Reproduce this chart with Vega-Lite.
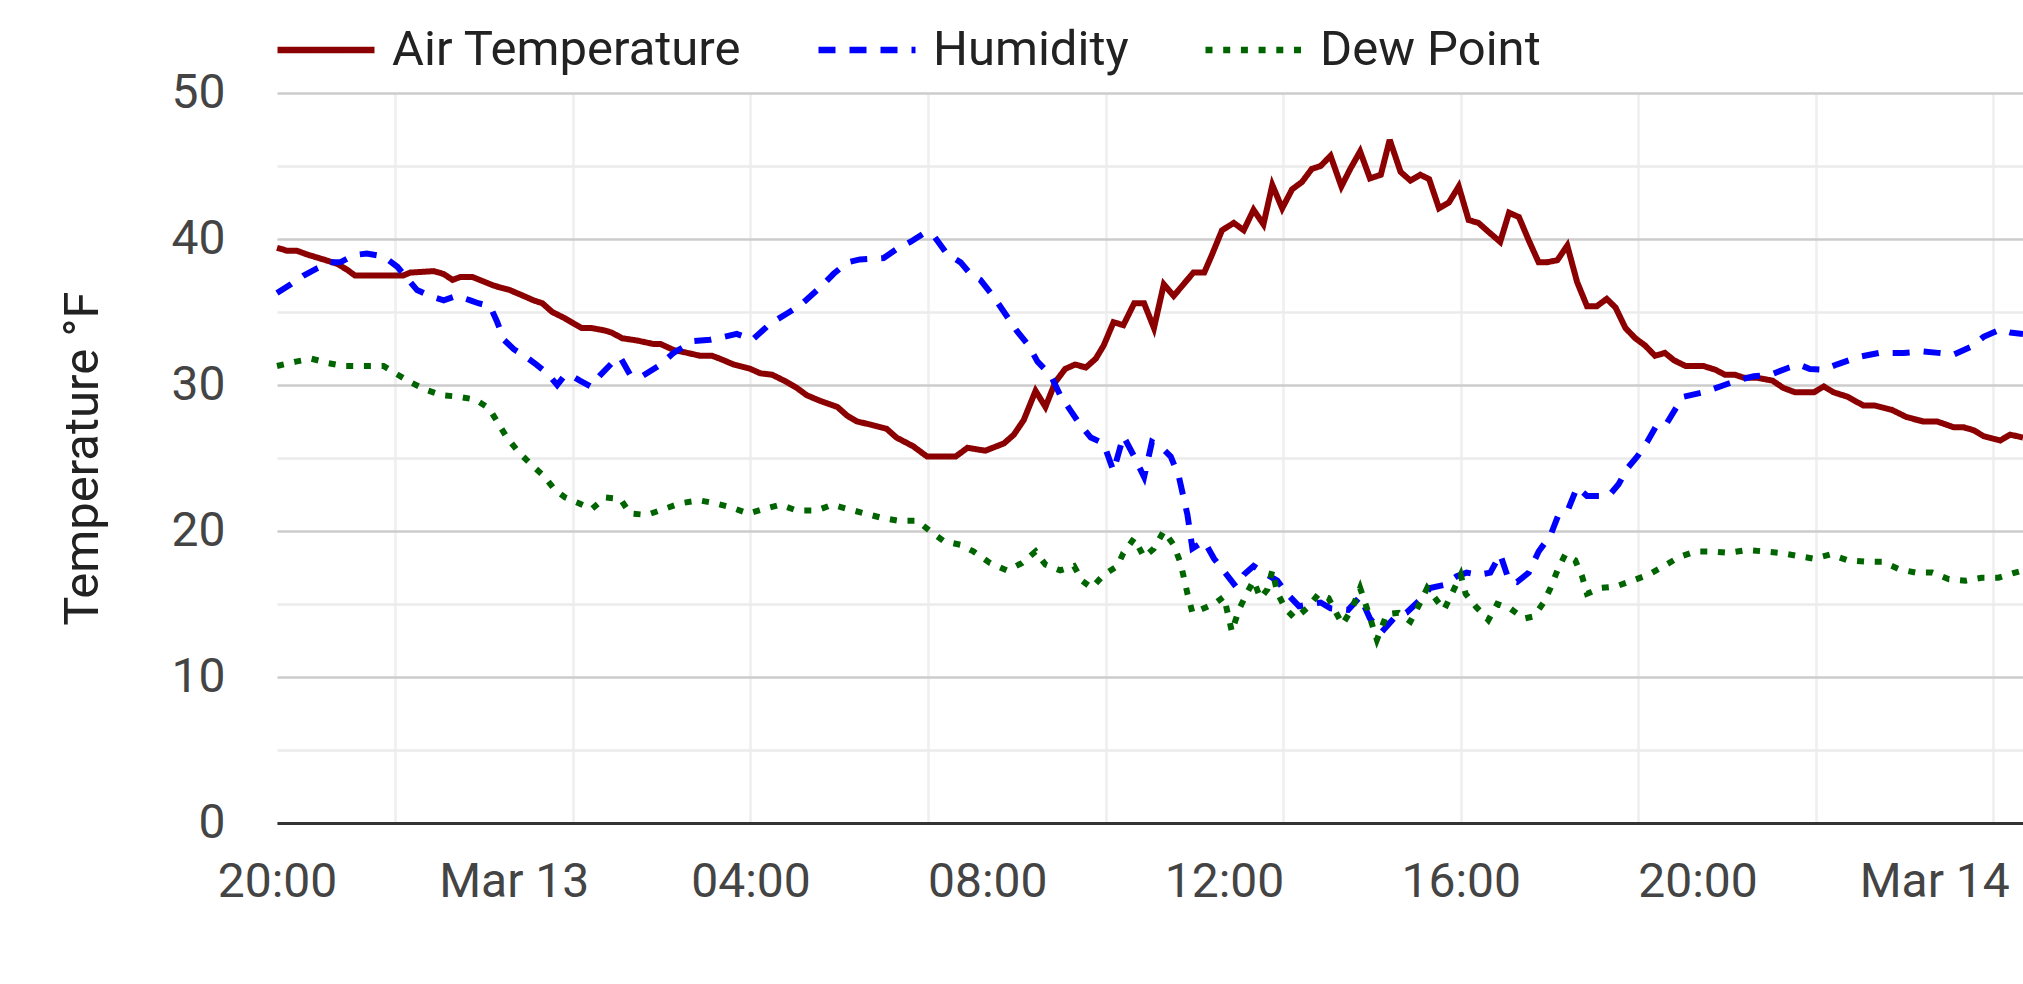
{
  "$schema": "https://vega.github.io/schema/vega-lite/v6.json",
  "autosize": {"type": "none"},
  "padding": {"left": 277, "top": 93, "right": 0, "bottom": 161},
  "width": 1746,
  "height": 730,
  "background": "white",
  "config": {
    "font": "Roboto",
    "view": {"stroke": null}
  },
  "data": {
    "values": [
      {"t": "2024-03-12T20:00", "s": "Air Temperature", "v": 39.4},
      {"t": "2024-03-12T20:10", "s": "Air Temperature", "v": 39.2},
      {"t": "2024-03-12T20:20", "s": "Air Temperature", "v": 39.2},
      {"t": "2024-03-12T20:30", "s": "Air Temperature", "v": 38.95},
      {"t": "2024-03-12T20:47", "s": "Air Temperature", "v": 38.6},
      {"t": "2024-03-12T21:01", "s": "Air Temperature", "v": 38.3},
      {"t": "2024-03-12T21:11", "s": "Air Temperature", "v": 37.9},
      {"t": "2024-03-12T21:19", "s": "Air Temperature", "v": 37.5},
      {"t": "2024-03-12T21:35", "s": "Air Temperature", "v": 37.5},
      {"t": "2024-03-12T22:08", "s": "Air Temperature", "v": 37.5},
      {"t": "2024-03-12T22:15", "s": "Air Temperature", "v": 37.7},
      {"t": "2024-03-12T22:39", "s": "Air Temperature", "v": 37.8},
      {"t": "2024-03-12T22:49", "s": "Air Temperature", "v": 37.6},
      {"t": "2024-03-12T22:58", "s": "Air Temperature", "v": 37.2},
      {"t": "2024-03-12T23:06", "s": "Air Temperature", "v": 37.4},
      {"t": "2024-03-12T23:18", "s": "Air Temperature", "v": 37.4},
      {"t": "2024-03-12T23:29", "s": "Air Temperature", "v": 37.1},
      {"t": "2024-03-12T23:40", "s": "Air Temperature", "v": 36.8},
      {"t": "2024-03-12T23:56", "s": "Air Temperature", "v": 36.5},
      {"t": "2024-03-13T00:10", "s": "Air Temperature", "v": 36.1},
      {"t": "2024-03-13T00:20", "s": "Air Temperature", "v": 35.8},
      {"t": "2024-03-13T00:29", "s": "Air Temperature", "v": 35.6},
      {"t": "2024-03-13T00:39", "s": "Air Temperature", "v": 35.0},
      {"t": "2024-03-13T00:51", "s": "Air Temperature", "v": 34.6},
      {"t": "2024-03-13T01:01", "s": "Air Temperature", "v": 34.2},
      {"t": "2024-03-13T01:09", "s": "Air Temperature", "v": 33.9},
      {"t": "2024-03-13T01:19", "s": "Air Temperature", "v": 33.9},
      {"t": "2024-03-13T01:31", "s": "Air Temperature", "v": 33.75},
      {"t": "2024-03-13T01:39", "s": "Air Temperature", "v": 33.6},
      {"t": "2024-03-13T01:50", "s": "Air Temperature", "v": 33.2},
      {"t": "2024-03-13T02:05", "s": "Air Temperature", "v": 33.05},
      {"t": "2024-03-13T02:22", "s": "Air Temperature", "v": 32.8},
      {"t": "2024-03-13T02:29", "s": "Air Temperature", "v": 32.8},
      {"t": "2024-03-13T02:42", "s": "Air Temperature", "v": 32.4},
      {"t": "2024-03-13T02:56", "s": "Air Temperature", "v": 32.2},
      {"t": "2024-03-13T03:09", "s": "Air Temperature", "v": 32.0},
      {"t": "2024-03-13T03:21", "s": "Air Temperature", "v": 32.0},
      {"t": "2024-03-13T03:29", "s": "Air Temperature", "v": 31.8},
      {"t": "2024-03-13T03:43", "s": "Air Temperature", "v": 31.4},
      {"t": "2024-03-13T04:00", "s": "Air Temperature", "v": 31.1},
      {"t": "2024-03-13T04:10", "s": "Air Temperature", "v": 30.8},
      {"t": "2024-03-13T04:22", "s": "Air Temperature", "v": 30.7},
      {"t": "2024-03-13T04:34", "s": "Air Temperature", "v": 30.3},
      {"t": "2024-03-13T04:47", "s": "Air Temperature", "v": 29.8},
      {"t": "2024-03-13T04:57", "s": "Air Temperature", "v": 29.3},
      {"t": "2024-03-13T05:11", "s": "Air Temperature", "v": 28.9},
      {"t": "2024-03-13T05:28", "s": "Air Temperature", "v": 28.5},
      {"t": "2024-03-13T05:38", "s": "Air Temperature", "v": 27.9},
      {"t": "2024-03-13T05:48", "s": "Air Temperature", "v": 27.5},
      {"t": "2024-03-13T06:01", "s": "Air Temperature", "v": 27.3},
      {"t": "2024-03-13T06:18", "s": "Air Temperature", "v": 27.0},
      {"t": "2024-03-13T06:28", "s": "Air Temperature", "v": 26.4},
      {"t": "2024-03-13T06:45", "s": "Air Temperature", "v": 25.8},
      {"t": "2024-03-13T06:59", "s": "Air Temperature", "v": 25.1},
      {"t": "2024-03-13T07:12", "s": "Air Temperature", "v": 25.1},
      {"t": "2024-03-13T07:28", "s": "Air Temperature", "v": 25.1},
      {"t": "2024-03-13T07:40", "s": "Air Temperature", "v": 25.7},
      {"t": "2024-03-13T07:58", "s": "Air Temperature", "v": 25.5},
      {"t": "2024-03-13T08:17", "s": "Air Temperature", "v": 26.0},
      {"t": "2024-03-13T08:27", "s": "Air Temperature", "v": 26.6},
      {"t": "2024-03-13T08:37", "s": "Air Temperature", "v": 27.6},
      {"t": "2024-03-13T08:49", "s": "Air Temperature", "v": 29.6},
      {"t": "2024-03-13T08:59", "s": "Air Temperature", "v": 28.5},
      {"t": "2024-03-13T09:09", "s": "Air Temperature", "v": 30.2},
      {"t": "2024-03-13T09:19", "s": "Air Temperature", "v": 31.1},
      {"t": "2024-03-13T09:29", "s": "Air Temperature", "v": 31.4},
      {"t": "2024-03-13T09:40", "s": "Air Temperature", "v": 31.2},
      {"t": "2024-03-13T09:50", "s": "Air Temperature", "v": 31.8},
      {"t": "2024-03-13T09:58", "s": "Air Temperature", "v": 32.7},
      {"t": "2024-03-13T10:08", "s": "Air Temperature", "v": 34.3},
      {"t": "2024-03-13T10:18", "s": "Air Temperature", "v": 34.1},
      {"t": "2024-03-13T10:29", "s": "Air Temperature", "v": 35.6},
      {"t": "2024-03-13T10:39", "s": "Air Temperature", "v": 35.6},
      {"t": "2024-03-13T10:49", "s": "Air Temperature", "v": 33.9},
      {"t": "2024-03-13T10:59", "s": "Air Temperature", "v": 36.9},
      {"t": "2024-03-13T11:09", "s": "Air Temperature", "v": 36.1},
      {"t": "2024-03-13T11:19", "s": "Air Temperature", "v": 36.9},
      {"t": "2024-03-13T11:29", "s": "Air Temperature", "v": 37.7},
      {"t": "2024-03-13T11:40", "s": "Air Temperature", "v": 37.7},
      {"t": "2024-03-13T11:48", "s": "Air Temperature", "v": 38.95},
      {"t": "2024-03-13T11:58", "s": "Air Temperature", "v": 40.6},
      {"t": "2024-03-13T12:10", "s": "Air Temperature", "v": 41.1},
      {"t": "2024-03-13T12:20", "s": "Air Temperature", "v": 40.6},
      {"t": "2024-03-13T12:30", "s": "Air Temperature", "v": 42.0},
      {"t": "2024-03-13T12:40", "s": "Air Temperature", "v": 41.0},
      {"t": "2024-03-13T12:49", "s": "Air Temperature", "v": 43.7},
      {"t": "2024-03-13T12:59", "s": "Air Temperature", "v": 42.1},
      {"t": "2024-03-13T13:09", "s": "Air Temperature", "v": 43.4},
      {"t": "2024-03-13T13:19", "s": "Air Temperature", "v": 43.9},
      {"t": "2024-03-13T13:29", "s": "Air Temperature", "v": 44.8},
      {"t": "2024-03-13T13:38", "s": "Air Temperature", "v": 45.0},
      {"t": "2024-03-13T13:48", "s": "Air Temperature", "v": 45.7},
      {"t": "2024-03-13T13:59", "s": "Air Temperature", "v": 43.6},
      {"t": "2024-03-13T14:08", "s": "Air Temperature", "v": 44.8},
      {"t": "2024-03-13T14:18", "s": "Air Temperature", "v": 46.0},
      {"t": "2024-03-13T14:28", "s": "Air Temperature", "v": 44.15},
      {"t": "2024-03-13T14:39", "s": "Air Temperature", "v": 44.4},
      {"t": "2024-03-13T14:48", "s": "Air Temperature", "v": 46.8},
      {"t": "2024-03-13T14:59", "s": "Air Temperature", "v": 44.6},
      {"t": "2024-03-13T15:09", "s": "Air Temperature", "v": 44.0},
      {"t": "2024-03-13T15:19", "s": "Air Temperature", "v": 44.4},
      {"t": "2024-03-13T15:28", "s": "Air Temperature", "v": 44.1},
      {"t": "2024-03-13T15:38", "s": "Air Temperature", "v": 42.1},
      {"t": "2024-03-13T15:48", "s": "Air Temperature", "v": 42.5},
      {"t": "2024-03-13T15:58", "s": "Air Temperature", "v": 43.6},
      {"t": "2024-03-13T16:08", "s": "Air Temperature", "v": 41.3},
      {"t": "2024-03-13T16:18", "s": "Air Temperature", "v": 41.1},
      {"t": "2024-03-13T16:28", "s": "Air Temperature", "v": 40.5},
      {"t": "2024-03-13T16:40", "s": "Air Temperature", "v": 39.8},
      {"t": "2024-03-13T16:49", "s": "Air Temperature", "v": 41.8},
      {"t": "2024-03-13T16:59", "s": "Air Temperature", "v": 41.5},
      {"t": "2024-03-13T17:09", "s": "Air Temperature", "v": 39.9},
      {"t": "2024-03-13T17:19", "s": "Air Temperature", "v": 38.4},
      {"t": "2024-03-13T17:27", "s": "Air Temperature", "v": 38.4},
      {"t": "2024-03-13T17:38", "s": "Air Temperature", "v": 38.55},
      {"t": "2024-03-13T17:48", "s": "Air Temperature", "v": 39.55},
      {"t": "2024-03-13T17:58", "s": "Air Temperature", "v": 37.05},
      {"t": "2024-03-13T18:08", "s": "Air Temperature", "v": 35.4},
      {"t": "2024-03-13T18:18", "s": "Air Temperature", "v": 35.4},
      {"t": "2024-03-13T18:28", "s": "Air Temperature", "v": 35.9},
      {"t": "2024-03-13T18:37", "s": "Air Temperature", "v": 35.3},
      {"t": "2024-03-13T18:47", "s": "Air Temperature", "v": 33.9},
      {"t": "2024-03-13T18:57", "s": "Air Temperature", "v": 33.2},
      {"t": "2024-03-13T19:07", "s": "Air Temperature", "v": 32.7},
      {"t": "2024-03-13T19:17", "s": "Air Temperature", "v": 32.0},
      {"t": "2024-03-13T19:27", "s": "Air Temperature", "v": 32.2},
      {"t": "2024-03-13T19:36", "s": "Air Temperature", "v": 31.7},
      {"t": "2024-03-13T19:48", "s": "Air Temperature", "v": 31.3},
      {"t": "2024-03-13T20:06", "s": "Air Temperature", "v": 31.3},
      {"t": "2024-03-13T20:18", "s": "Air Temperature", "v": 31.05},
      {"t": "2024-03-13T20:28", "s": "Air Temperature", "v": 30.7},
      {"t": "2024-03-13T20:38", "s": "Air Temperature", "v": 30.7},
      {"t": "2024-03-13T20:47", "s": "Air Temperature", "v": 30.5},
      {"t": "2024-03-13T21:00", "s": "Air Temperature", "v": 30.5},
      {"t": "2024-03-13T21:16", "s": "Air Temperature", "v": 30.3},
      {"t": "2024-03-13T21:27", "s": "Air Temperature", "v": 29.8},
      {"t": "2024-03-13T21:39", "s": "Air Temperature", "v": 29.5},
      {"t": "2024-03-13T21:58", "s": "Air Temperature", "v": 29.5},
      {"t": "2024-03-13T22:08", "s": "Air Temperature", "v": 29.9},
      {"t": "2024-03-13T22:18", "s": "Air Temperature", "v": 29.5},
      {"t": "2024-03-13T22:32", "s": "Air Temperature", "v": 29.2},
      {"t": "2024-03-13T22:48", "s": "Air Temperature", "v": 28.6},
      {"t": "2024-03-13T22:59", "s": "Air Temperature", "v": 28.6},
      {"t": "2024-03-13T23:17", "s": "Air Temperature", "v": 28.3},
      {"t": "2024-03-13T23:32", "s": "Air Temperature", "v": 27.8},
      {"t": "2024-03-13T23:49", "s": "Air Temperature", "v": 27.5},
      {"t": "2024-03-14T00:03", "s": "Air Temperature", "v": 27.5},
      {"t": "2024-03-14T00:20", "s": "Air Temperature", "v": 27.1},
      {"t": "2024-03-14T00:30", "s": "Air Temperature", "v": 27.1},
      {"t": "2024-03-14T00:40", "s": "Air Temperature", "v": 26.9},
      {"t": "2024-03-14T00:50", "s": "Air Temperature", "v": 26.5},
      {"t": "2024-03-14T01:07", "s": "Air Temperature", "v": 26.2},
      {"t": "2024-03-14T01:17", "s": "Air Temperature", "v": 26.6},
      {"t": "2024-03-14T01:30", "s": "Air Temperature", "v": 26.4},

      {"t": "2024-03-12T20:00", "s": "Humidity", "v": 36.3},
      {"t": "2024-03-12T20:14", "s": "Humidity", "v": 36.9},
      {"t": "2024-03-12T20:27", "s": "Humidity", "v": 37.5},
      {"t": "2024-03-12T20:41", "s": "Humidity", "v": 38.0},
      {"t": "2024-03-12T20:54", "s": "Humidity", "v": 38.4},
      {"t": "2024-03-12T21:04", "s": "Humidity", "v": 38.4},
      {"t": "2024-03-12T21:18", "s": "Humidity", "v": 38.9},
      {"t": "2024-03-12T21:31", "s": "Humidity", "v": 39.0},
      {"t": "2024-03-12T21:48", "s": "Humidity", "v": 38.8},
      {"t": "2024-03-12T22:02", "s": "Humidity", "v": 38.1},
      {"t": "2024-03-12T22:12", "s": "Humidity", "v": 37.3},
      {"t": "2024-03-12T22:22", "s": "Humidity", "v": 36.5},
      {"t": "2024-03-12T22:35", "s": "Humidity", "v": 36.1},
      {"t": "2024-03-12T22:49", "s": "Humidity", "v": 35.8},
      {"t": "2024-03-12T23:02", "s": "Humidity", "v": 36.1},
      {"t": "2024-03-12T23:16", "s": "Humidity", "v": 35.8},
      {"t": "2024-03-12T23:24", "s": "Humidity", "v": 35.6},
      {"t": "2024-03-12T23:36", "s": "Humidity", "v": 35.4},
      {"t": "2024-03-12T23:43", "s": "Humidity", "v": 34.35},
      {"t": "2024-03-12T23:50", "s": "Humidity", "v": 33.1},
      {"t": "2024-03-13T00:00", "s": "Humidity", "v": 32.45},
      {"t": "2024-03-13T00:13", "s": "Humidity", "v": 31.9},
      {"t": "2024-03-13T00:23", "s": "Humidity", "v": 31.4},
      {"t": "2024-03-13T00:34", "s": "Humidity", "v": 30.8},
      {"t": "2024-03-13T00:44", "s": "Humidity", "v": 30.0},
      {"t": "2024-03-13T00:51", "s": "Humidity", "v": 30.6},
      {"t": "2024-03-13T00:57", "s": "Humidity", "v": 30.7},
      {"t": "2024-03-13T01:07", "s": "Humidity", "v": 30.3},
      {"t": "2024-03-13T01:18", "s": "Humidity", "v": 29.9},
      {"t": "2024-03-13T01:28", "s": "Humidity", "v": 30.7},
      {"t": "2024-03-13T01:41", "s": "Humidity", "v": 31.6},
      {"t": "2024-03-13T01:48", "s": "Humidity", "v": 31.9},
      {"t": "2024-03-13T01:58", "s": "Humidity", "v": 30.7},
      {"t": "2024-03-13T02:10", "s": "Humidity", "v": 30.6},
      {"t": "2024-03-13T02:29", "s": "Humidity", "v": 31.4},
      {"t": "2024-03-13T02:42", "s": "Humidity", "v": 32.2},
      {"t": "2024-03-13T03:02", "s": "Humidity", "v": 33.0},
      {"t": "2024-03-13T03:19", "s": "Humidity", "v": 33.1},
      {"t": "2024-03-13T03:33", "s": "Humidity", "v": 33.3},
      {"t": "2024-03-13T03:46", "s": "Humidity", "v": 33.5},
      {"t": "2024-03-13T04:02", "s": "Humidity", "v": 33.1},
      {"t": "2024-03-13T04:20", "s": "Humidity", "v": 34.2},
      {"t": "2024-03-13T04:37", "s": "Humidity", "v": 34.9},
      {"t": "2024-03-13T04:51", "s": "Humidity", "v": 35.5},
      {"t": "2024-03-13T05:11", "s": "Humidity", "v": 36.7},
      {"t": "2024-03-13T05:24", "s": "Humidity", "v": 37.6},
      {"t": "2024-03-13T05:38", "s": "Humidity", "v": 38.4},
      {"t": "2024-03-13T05:51", "s": "Humidity", "v": 38.6},
      {"t": "2024-03-13T06:15", "s": "Humidity", "v": 38.7},
      {"t": "2024-03-13T06:28", "s": "Humidity", "v": 39.3},
      {"t": "2024-03-13T06:42", "s": "Humidity", "v": 39.8},
      {"t": "2024-03-13T06:56", "s": "Humidity", "v": 40.4},
      {"t": "2024-03-13T07:06", "s": "Humidity", "v": 40.2},
      {"t": "2024-03-13T07:19", "s": "Humidity", "v": 39.0},
      {"t": "2024-03-13T07:33", "s": "Humidity", "v": 38.4},
      {"t": "2024-03-13T07:43", "s": "Humidity", "v": 37.6},
      {"t": "2024-03-13T07:53", "s": "Humidity", "v": 37.2},
      {"t": "2024-03-13T08:07", "s": "Humidity", "v": 36.0},
      {"t": "2024-03-13T08:17", "s": "Humidity", "v": 35.0},
      {"t": "2024-03-13T08:30", "s": "Humidity", "v": 33.7},
      {"t": "2024-03-13T08:42", "s": "Humidity", "v": 32.7},
      {"t": "2024-03-13T08:51", "s": "Humidity", "v": 31.6},
      {"t": "2024-03-13T09:04", "s": "Humidity", "v": 30.7},
      {"t": "2024-03-13T09:14", "s": "Humidity", "v": 29.3},
      {"t": "2024-03-13T09:24", "s": "Humidity", "v": 28.3},
      {"t": "2024-03-13T09:34", "s": "Humidity", "v": 27.3},
      {"t": "2024-03-13T09:45", "s": "Humidity", "v": 26.4},
      {"t": "2024-03-13T09:58", "s": "Humidity", "v": 26.0},
      {"t": "2024-03-13T10:08", "s": "Humidity", "v": 24.1},
      {"t": "2024-03-13T10:18", "s": "Humidity", "v": 26.5},
      {"t": "2024-03-13T10:29", "s": "Humidity", "v": 25.1},
      {"t": "2024-03-13T10:39", "s": "Humidity", "v": 23.7},
      {"t": "2024-03-13T10:47", "s": "Humidity", "v": 26.1},
      {"t": "2024-03-13T10:57", "s": "Humidity", "v": 25.7},
      {"t": "2024-03-13T11:06", "s": "Humidity", "v": 25.1},
      {"t": "2024-03-13T11:14", "s": "Humidity", "v": 23.8},
      {"t": "2024-03-13T11:23", "s": "Humidity", "v": 21.1},
      {"t": "2024-03-13T11:28", "s": "Humidity", "v": 18.8},
      {"t": "2024-03-13T11:40", "s": "Humidity", "v": 19.3},
      {"t": "2024-03-13T11:50", "s": "Humidity", "v": 18.1},
      {"t": "2024-03-13T12:01", "s": "Humidity", "v": 17.15},
      {"t": "2024-03-13T12:12", "s": "Humidity", "v": 16.2},
      {"t": "2024-03-13T12:20", "s": "Humidity", "v": 17.0},
      {"t": "2024-03-13T12:30", "s": "Humidity", "v": 17.6},
      {"t": "2024-03-13T12:40", "s": "Humidity", "v": 17.15},
      {"t": "2024-03-13T12:54", "s": "Humidity", "v": 16.6},
      {"t": "2024-03-13T13:04", "s": "Humidity", "v": 15.7},
      {"t": "2024-03-13T13:16", "s": "Humidity", "v": 14.85},
      {"t": "2024-03-13T13:28", "s": "Humidity", "v": 15.0},
      {"t": "2024-03-13T13:38", "s": "Humidity", "v": 15.1},
      {"t": "2024-03-13T13:48", "s": "Humidity", "v": 14.7},
      {"t": "2024-03-13T14:06", "s": "Humidity", "v": 14.6},
      {"t": "2024-03-13T14:18", "s": "Humidity", "v": 15.5},
      {"t": "2024-03-13T14:28", "s": "Humidity", "v": 14.0},
      {"t": "2024-03-13T14:40", "s": "Humidity", "v": 13.1},
      {"t": "2024-03-13T14:52", "s": "Humidity", "v": 14.0},
      {"t": "2024-03-13T15:05", "s": "Humidity", "v": 14.4},
      {"t": "2024-03-13T15:19", "s": "Humidity", "v": 15.3},
      {"t": "2024-03-13T15:29", "s": "Humidity", "v": 16.1},
      {"t": "2024-03-13T15:43", "s": "Humidity", "v": 16.3},
      {"t": "2024-03-13T15:56", "s": "Humidity", "v": 16.9},
      {"t": "2024-03-13T16:06", "s": "Humidity", "v": 17.15},
      {"t": "2024-03-13T16:18", "s": "Humidity", "v": 17.0},
      {"t": "2024-03-13T16:30", "s": "Humidity", "v": 17.15},
      {"t": "2024-03-13T16:40", "s": "Humidity", "v": 18.4},
      {"t": "2024-03-13T16:49", "s": "Humidity", "v": 16.6},
      {"t": "2024-03-13T16:57", "s": "Humidity", "v": 16.5},
      {"t": "2024-03-13T17:09", "s": "Humidity", "v": 17.15},
      {"t": "2024-03-13T17:19", "s": "Humidity", "v": 18.6},
      {"t": "2024-03-13T17:31", "s": "Humidity", "v": 19.7},
      {"t": "2024-03-13T17:39", "s": "Humidity", "v": 21.1},
      {"t": "2024-03-13T17:49", "s": "Humidity", "v": 21.5},
      {"t": "2024-03-13T17:58", "s": "Humidity", "v": 23.0},
      {"t": "2024-03-13T18:08", "s": "Humidity", "v": 22.4},
      {"t": "2024-03-13T18:20", "s": "Humidity", "v": 22.4},
      {"t": "2024-03-13T18:30", "s": "Humidity", "v": 22.4},
      {"t": "2024-03-13T18:40", "s": "Humidity", "v": 23.2},
      {"t": "2024-03-13T18:49", "s": "Humidity", "v": 24.3},
      {"t": "2024-03-13T18:59", "s": "Humidity", "v": 25.1},
      {"t": "2024-03-13T19:09", "s": "Humidity", "v": 26.1},
      {"t": "2024-03-13T19:19", "s": "Humidity", "v": 27.3},
      {"t": "2024-03-13T19:29", "s": "Humidity", "v": 27.4},
      {"t": "2024-03-13T19:38", "s": "Humidity", "v": 28.4},
      {"t": "2024-03-13T19:46", "s": "Humidity", "v": 29.2},
      {"t": "2024-03-13T20:06", "s": "Humidity", "v": 29.5},
      {"t": "2024-03-13T20:23", "s": "Humidity", "v": 29.9},
      {"t": "2024-03-13T20:40", "s": "Humidity", "v": 30.3},
      {"t": "2024-03-13T20:57", "s": "Humidity", "v": 30.6},
      {"t": "2024-03-13T21:14", "s": "Humidity", "v": 30.7},
      {"t": "2024-03-13T21:31", "s": "Humidity", "v": 31.15},
      {"t": "2024-03-13T21:43", "s": "Humidity", "v": 31.4},
      {"t": "2024-03-13T21:54", "s": "Humidity", "v": 31.1},
      {"t": "2024-03-13T22:08", "s": "Humidity", "v": 31.05},
      {"t": "2024-03-13T22:21", "s": "Humidity", "v": 31.4},
      {"t": "2024-03-13T22:42", "s": "Humidity", "v": 31.9},
      {"t": "2024-03-13T23:04", "s": "Humidity", "v": 32.2},
      {"t": "2024-03-13T23:29", "s": "Humidity", "v": 32.2},
      {"t": "2024-03-13T23:49", "s": "Humidity", "v": 32.3},
      {"t": "2024-03-14T00:04", "s": "Humidity", "v": 32.2},
      {"t": "2024-03-14T00:20", "s": "Humidity", "v": 32.1},
      {"t": "2024-03-14T00:37", "s": "Humidity", "v": 32.6},
      {"t": "2024-03-14T00:50", "s": "Humidity", "v": 33.3},
      {"t": "2024-03-14T01:07", "s": "Humidity", "v": 33.8},
      {"t": "2024-03-14T01:17", "s": "Humidity", "v": 33.6},
      {"t": "2024-03-14T01:30", "s": "Humidity", "v": 33.5},

      {"t": "2024-03-12T20:00", "s": "Dew Point", "v": 31.3},
      {"t": "2024-03-12T20:19", "s": "Dew Point", "v": 31.6},
      {"t": "2024-03-12T20:35", "s": "Dew Point", "v": 31.8},
      {"t": "2024-03-12T20:52", "s": "Dew Point", "v": 31.5},
      {"t": "2024-03-12T21:08", "s": "Dew Point", "v": 31.3},
      {"t": "2024-03-12T21:48", "s": "Dew Point", "v": 31.3},
      {"t": "2024-03-12T22:00", "s": "Dew Point", "v": 30.8},
      {"t": "2024-03-12T22:15", "s": "Dew Point", "v": 30.2},
      {"t": "2024-03-12T22:30", "s": "Dew Point", "v": 29.7},
      {"t": "2024-03-12T22:47", "s": "Dew Point", "v": 29.3},
      {"t": "2024-03-12T23:04", "s": "Dew Point", "v": 29.2},
      {"t": "2024-03-12T23:21", "s": "Dew Point", "v": 29.0},
      {"t": "2024-03-12T23:35", "s": "Dew Point", "v": 28.4},
      {"t": "2024-03-12T23:45", "s": "Dew Point", "v": 27.3},
      {"t": "2024-03-12T23:53", "s": "Dew Point", "v": 26.4},
      {"t": "2024-03-13T00:05", "s": "Dew Point", "v": 25.4},
      {"t": "2024-03-13T00:17", "s": "Dew Point", "v": 24.6},
      {"t": "2024-03-13T00:30", "s": "Dew Point", "v": 23.8},
      {"t": "2024-03-13T00:42", "s": "Dew Point", "v": 22.8},
      {"t": "2024-03-13T00:52", "s": "Dew Point", "v": 22.3},
      {"t": "2024-03-13T01:06", "s": "Dew Point", "v": 21.9},
      {"t": "2024-03-13T01:19", "s": "Dew Point", "v": 21.5},
      {"t": "2024-03-13T01:33", "s": "Dew Point", "v": 22.3},
      {"t": "2024-03-13T01:48", "s": "Dew Point", "v": 22.2},
      {"t": "2024-03-13T01:58", "s": "Dew Point", "v": 21.2},
      {"t": "2024-03-13T02:15", "s": "Dew Point", "v": 21.1},
      {"t": "2024-03-13T02:32", "s": "Dew Point", "v": 21.5},
      {"t": "2024-03-13T02:49", "s": "Dew Point", "v": 21.9},
      {"t": "2024-03-13T03:08", "s": "Dew Point", "v": 22.1},
      {"t": "2024-03-13T03:24", "s": "Dew Point", "v": 21.9},
      {"t": "2024-03-13T03:41", "s": "Dew Point", "v": 21.6},
      {"t": "2024-03-13T03:58", "s": "Dew Point", "v": 21.2},
      {"t": "2024-03-13T04:13", "s": "Dew Point", "v": 21.5},
      {"t": "2024-03-13T04:30", "s": "Dew Point", "v": 21.8},
      {"t": "2024-03-13T04:47", "s": "Dew Point", "v": 21.4},
      {"t": "2024-03-13T05:07", "s": "Dew Point", "v": 21.4},
      {"t": "2024-03-13T05:23", "s": "Dew Point", "v": 21.8},
      {"t": "2024-03-13T05:39", "s": "Dew Point", "v": 21.5},
      {"t": "2024-03-13T05:56", "s": "Dew Point", "v": 21.2},
      {"t": "2024-03-13T06:13", "s": "Dew Point", "v": 20.9},
      {"t": "2024-03-13T06:30", "s": "Dew Point", "v": 20.7},
      {"t": "2024-03-13T06:49", "s": "Dew Point", "v": 20.7},
      {"t": "2024-03-13T07:02", "s": "Dew Point", "v": 20.0},
      {"t": "2024-03-13T07:16", "s": "Dew Point", "v": 19.3},
      {"t": "2024-03-13T07:33", "s": "Dew Point", "v": 19.05},
      {"t": "2024-03-13T07:46", "s": "Dew Point", "v": 18.6},
      {"t": "2024-03-13T08:03", "s": "Dew Point", "v": 17.8},
      {"t": "2024-03-13T08:20", "s": "Dew Point", "v": 17.3},
      {"t": "2024-03-13T08:35", "s": "Dew Point", "v": 17.8},
      {"t": "2024-03-13T08:49", "s": "Dew Point", "v": 18.6},
      {"t": "2024-03-13T08:59", "s": "Dew Point", "v": 17.7},
      {"t": "2024-03-13T09:14", "s": "Dew Point", "v": 17.3},
      {"t": "2024-03-13T09:28", "s": "Dew Point", "v": 17.6},
      {"t": "2024-03-13T09:36", "s": "Dew Point", "v": 16.6},
      {"t": "2024-03-13T09:46", "s": "Dew Point", "v": 16.1},
      {"t": "2024-03-13T09:58", "s": "Dew Point", "v": 17.0},
      {"t": "2024-03-13T10:12", "s": "Dew Point", "v": 17.6},
      {"t": "2024-03-13T10:18", "s": "Dew Point", "v": 18.5},
      {"t": "2024-03-13T10:29", "s": "Dew Point", "v": 19.5},
      {"t": "2024-03-13T10:39", "s": "Dew Point", "v": 18.2},
      {"t": "2024-03-13T10:49", "s": "Dew Point", "v": 18.8},
      {"t": "2024-03-13T10:59", "s": "Dew Point", "v": 20.0},
      {"t": "2024-03-13T11:09", "s": "Dew Point", "v": 19.05},
      {"t": "2024-03-13T11:16", "s": "Dew Point", "v": 17.8},
      {"t": "2024-03-13T11:23", "s": "Dew Point", "v": 15.7},
      {"t": "2024-03-13T11:28", "s": "Dew Point", "v": 14.4},
      {"t": "2024-03-13T11:36", "s": "Dew Point", "v": 14.6},
      {"t": "2024-03-13T11:50", "s": "Dew Point", "v": 15.0},
      {"t": "2024-03-13T12:00", "s": "Dew Point", "v": 15.5},
      {"t": "2024-03-13T12:08", "s": "Dew Point", "v": 13.1},
      {"t": "2024-03-13T12:15", "s": "Dew Point", "v": 14.6},
      {"t": "2024-03-13T12:23", "s": "Dew Point", "v": 15.7},
      {"t": "2024-03-13T12:30", "s": "Dew Point", "v": 16.6},
      {"t": "2024-03-13T12:37", "s": "Dew Point", "v": 15.4},
      {"t": "2024-03-13T12:44", "s": "Dew Point", "v": 16.0},
      {"t": "2024-03-13T12:49", "s": "Dew Point", "v": 17.3},
      {"t": "2024-03-13T12:54", "s": "Dew Point", "v": 15.8},
      {"t": "2024-03-13T13:02", "s": "Dew Point", "v": 14.7},
      {"t": "2024-03-13T13:12", "s": "Dew Point", "v": 14.0},
      {"t": "2024-03-13T13:24", "s": "Dew Point", "v": 14.7},
      {"t": "2024-03-13T13:36", "s": "Dew Point", "v": 15.7},
      {"t": "2024-03-13T13:46", "s": "Dew Point", "v": 15.4},
      {"t": "2024-03-13T14:00", "s": "Dew Point", "v": 13.6},
      {"t": "2024-03-13T14:10", "s": "Dew Point", "v": 14.7},
      {"t": "2024-03-13T14:18", "s": "Dew Point", "v": 16.1},
      {"t": "2024-03-13T14:25", "s": "Dew Point", "v": 14.7},
      {"t": "2024-03-13T14:35", "s": "Dew Point", "v": 12.55},
      {"t": "2024-03-13T14:45", "s": "Dew Point", "v": 14.3},
      {"t": "2024-03-13T14:57", "s": "Dew Point", "v": 14.4},
      {"t": "2024-03-13T15:09", "s": "Dew Point", "v": 13.8},
      {"t": "2024-03-13T15:19", "s": "Dew Point", "v": 15.1},
      {"t": "2024-03-13T15:26", "s": "Dew Point", "v": 16.1},
      {"t": "2024-03-13T15:34", "s": "Dew Point", "v": 15.4},
      {"t": "2024-03-13T15:43", "s": "Dew Point", "v": 14.6},
      {"t": "2024-03-13T15:51", "s": "Dew Point", "v": 15.7},
      {"t": "2024-03-13T16:00", "s": "Dew Point", "v": 17.0},
      {"t": "2024-03-13T16:05", "s": "Dew Point", "v": 15.7},
      {"t": "2024-03-13T16:15", "s": "Dew Point", "v": 14.85},
      {"t": "2024-03-13T16:28", "s": "Dew Point", "v": 13.9},
      {"t": "2024-03-13T16:37", "s": "Dew Point", "v": 15.0},
      {"t": "2024-03-13T16:50", "s": "Dew Point", "v": 14.7},
      {"t": "2024-03-13T17:04", "s": "Dew Point", "v": 14.0},
      {"t": "2024-03-13T17:14", "s": "Dew Point", "v": 14.15},
      {"t": "2024-03-13T17:24", "s": "Dew Point", "v": 15.1},
      {"t": "2024-03-13T17:31", "s": "Dew Point", "v": 16.1},
      {"t": "2024-03-13T17:38", "s": "Dew Point", "v": 17.3},
      {"t": "2024-03-13T17:46", "s": "Dew Point", "v": 18.4},
      {"t": "2024-03-13T17:56", "s": "Dew Point", "v": 18.0},
      {"t": "2024-03-13T18:03", "s": "Dew Point", "v": 16.9},
      {"t": "2024-03-13T18:08", "s": "Dew Point", "v": 15.7},
      {"t": "2024-03-13T18:22", "s": "Dew Point", "v": 16.1},
      {"t": "2024-03-13T18:37", "s": "Dew Point", "v": 16.2},
      {"t": "2024-03-13T18:54", "s": "Dew Point", "v": 16.6},
      {"t": "2024-03-13T19:10", "s": "Dew Point", "v": 17.0},
      {"t": "2024-03-13T19:26", "s": "Dew Point", "v": 17.6},
      {"t": "2024-03-13T19:41", "s": "Dew Point", "v": 18.2},
      {"t": "2024-03-13T19:58", "s": "Dew Point", "v": 18.6},
      {"t": "2024-03-13T20:15", "s": "Dew Point", "v": 18.6},
      {"t": "2024-03-13T20:32", "s": "Dew Point", "v": 18.5},
      {"t": "2024-03-13T20:50", "s": "Dew Point", "v": 18.7},
      {"t": "2024-03-13T21:07", "s": "Dew Point", "v": 18.6},
      {"t": "2024-03-13T21:24", "s": "Dew Point", "v": 18.5},
      {"t": "2024-03-13T21:41", "s": "Dew Point", "v": 18.3},
      {"t": "2024-03-13T21:58", "s": "Dew Point", "v": 18.1},
      {"t": "2024-03-13T22:15", "s": "Dew Point", "v": 18.4},
      {"t": "2024-03-13T22:32", "s": "Dew Point", "v": 18.0},
      {"t": "2024-03-13T22:50", "s": "Dew Point", "v": 17.9},
      {"t": "2024-03-13T23:07", "s": "Dew Point", "v": 17.9},
      {"t": "2024-03-13T23:24", "s": "Dew Point", "v": 17.4},
      {"t": "2024-03-13T23:41", "s": "Dew Point", "v": 17.15},
      {"t": "2024-03-13T23:58", "s": "Dew Point", "v": 17.15},
      {"t": "2024-03-14T00:15", "s": "Dew Point", "v": 16.7},
      {"t": "2024-03-14T00:32", "s": "Dew Point", "v": 16.6},
      {"t": "2024-03-14T00:48", "s": "Dew Point", "v": 16.8},
      {"t": "2024-03-14T01:05", "s": "Dew Point", "v": 16.8},
      {"t": "2024-03-14T01:22", "s": "Dew Point", "v": 17.15},
      {"t": "2024-03-14T01:30", "s": "Dew Point", "v": 17.3}
    ]
  },
  "mark": {"type": "line", "strokeWidth": 6, "strokeCap": "butt", "strokeJoin": "miter"},
  "encoding": {
    "x": {
      "field": "t",
      "type": "temporal",
      "scale": {
        "domain": [
          {"year": 2024, "month": 3, "date": 12, "hours": 20},
          {"year": 2024, "month": 3, "date": 14, "hours": 1, "minutes": 30}
        ]
      },
      "axis": {
        "title": null,
        "values": [
          {"year": 2024, "month": 3, "date": 12, "hours": 20},
          {"year": 2024, "month": 3, "date": 12, "hours": 22},
          {"year": 2024, "month": 3, "date": 13, "hours": 0},
          {"year": 2024, "month": 3, "date": 13, "hours": 1},
          {"year": 2024, "month": 3, "date": 13, "hours": 4},
          {"year": 2024, "month": 3, "date": 13, "hours": 7},
          {"year": 2024, "month": 3, "date": 13, "hours": 8},
          {"year": 2024, "month": 3, "date": 13, "hours": 10},
          {"year": 2024, "month": 3, "date": 13, "hours": 12},
          {"year": 2024, "month": 3, "date": 13, "hours": 13},
          {"year": 2024, "month": 3, "date": 13, "hours": 16},
          {"year": 2024, "month": 3, "date": 13, "hours": 19},
          {"year": 2024, "month": 3, "date": 13, "hours": 20},
          {"year": 2024, "month": 3, "date": 13, "hours": 22},
          {"year": 2024, "month": 3, "date": 14, "hours": 0},
          {"year": 2024, "month": 3, "date": 14, "hours": 1}
        ],
        "labelExpr": "hours(datum.value) % 4 === 0 ? (hours(datum.value) === 0 ? timeFormat(datum.value, '%b %d') : timeFormat(datum.value, '%H:%M')) : ''",
        "labelOverlap": false,
        "labelFlush": false,
        "labelFont": "Roboto",
        "labelFontSize": 48,
        "labelColor": "#444444",
        "labelPadding": 35,
        "ticks": false,
        "tickSize": 0,
        "domain": true,
        "domainColor": "#333333",
        "domainWidth": 3,
        "grid": true,
        "gridColor": "#efefef",
        "gridWidth": 2.6,
        "gridOpacity": {"condition": {"test": "hours(datum.value) % 3 === 1", "value": 1}, "value": 0}
      }
    },
    "y": {
      "field": "v",
      "type": "quantitative",
      "scale": {"domain": [0, 50], "nice": false, "zero": true},
      "axis": {
        "title": "Temperature °F",
        "titleFont": "Roboto",
        "titleFontSize": 49,
        "titleFontWeight": "normal",
        "titleColor": "#222222",
        "titleX": -195,
        "titleY": 365,
        "titleAngle": -90,
        "titleAlign": "center",
        "titleBaseline": "middle",
        "values": [0, 5, 10, 15, 20, 25, 30, 35, 40, 45, 50],
        "labelExpr": "datum.value % 10 === 0 ? datum.label : ''",
        "labelFont": "Roboto",
        "labelFontSize": 48,
        "labelColor": "#444444",
        "labelPadding": 52,
        "ticks": false,
        "tickSize": 0,
        "domain": false,
        "grid": true,
        "gridWidth": 2.6,
        "gridColor": {"condition": {"test": "datum.value % 10 === 0", "value": "#cccccc"}, "value": "#ebebeb"}
      }
    },
    "color": {
      "field": "s",
      "type": "nominal",
      "scale": {
        "domain": ["Air Temperature", "Humidity", "Dew Point"],
        "range": ["#8b0000", "#0000ff", "#006400"]
      },
      "legend": {
        "orient": "none",
        "legendX": -3,
        "legendY": -95,
        "direction": "horizontal",
        "title": null,
        "padding": 0,
        "symbolType": "stroke",
        "symbolSize": 9409,
        "symbolStrokeWidth": 6.5,
        "labelFont": "Roboto",
        "labelFontSize": 49,
        "labelColor": "#222222",
        "labelLimit": 0,
        "labelOffset": 14,
        "columnPadding": 63
      }
    },
    "strokeDash": {
      "field": "s",
      "type": "nominal",
      "scale": {
        "domain": ["Air Temperature", "Humidity", "Dew Point"],
        "range": [[1, 0], [17, 14], [7, 10.7]]
      },
      "legend": {
        "orient": "none",
        "legendX": -3,
        "legendY": -95,
        "direction": "horizontal",
        "title": null,
        "padding": 0,
        "symbolType": "stroke",
        "symbolSize": 9409,
        "symbolStrokeWidth": 6.5,
        "labelFont": "Roboto",
        "labelFontSize": 49,
        "labelColor": "#222222",
        "labelLimit": 0,
        "labelOffset": 14,
        "columnPadding": 63
      }
    }
  }
}
